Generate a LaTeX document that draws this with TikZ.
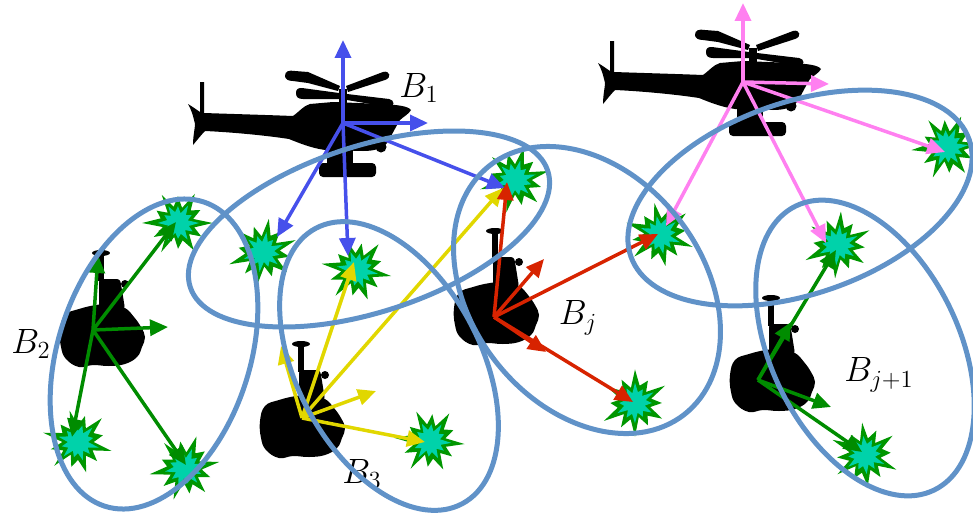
\RequirePackage{fix-cm}
\documentclass[tikz,border=0pt]{standalone}
\usetikzlibrary{arrows.meta}

\definecolor{ellblue}{RGB}{96,146,200}
\definecolor{arrblue}{RGB}{70,80,235}
\definecolor{arrpink}{RGB}{255,128,240}
\definecolor{arrgreen}{RGB}{0,140,0}
\definecolor{arryellow}{RGB}{225,215,0}
\definecolor{arrred}{RGB}{215,35,0}
\definecolor{burstgreen}{RGB}{0,150,0}
\definecolor{burstcyan}{RGB}{0,210,170}

\tikzset{
  ell/.style={draw=ellblue, line width=0.1cm},
  arr/.style={line width=0.07cm, -{Triangle[length=0.36cm,width=0.32cm]}},
  lbl/.style={font=\fontsize{20}{24}\selectfont, inner sep=1pt},
}

% helicopter silhouette, placed by its rotor hub
\newcommand{\heli}[1]{%
\begin{scope}[shift={(#1)}]
  \fill[black] (-143,-41) -- (-139,-41) -- (-139,-10)
    .. controls (-110,-9) and (-75,-8) .. (-50,-7)
    .. controls (-44,-11) and (-40,-17) .. (-33,-19)
    -- (-10,-21) -- (40,-19)
    .. controls (55,-18) and (65,-17) .. (68,-13)
    .. controls (66,-9) and (60,-6) .. (57,-3)
    .. controls (52,5) and (48,14) .. (44,20)
    .. controls (40,26) and (30,28) .. (20,28)
    -- (-18,27)
    .. controls (-32,25) and (-44,20) .. (-54,16)
    .. controls (-80,12) and (-115,9) .. (-138,8)
    .. controls (-141,11) and (-145,16) .. (-150,22)
    .. controls (-150,13) and (-148,5) .. (-148,1)
    .. controls (-150,-8) and (-152,-14) .. (-155,-19)
    .. controls (-150,-16) and (-146,-13) .. (-143,-11)
    -- cycle;
  % rotor mast and blades
  \fill[black] (-4,-34) rectangle (4,-18);
  \fill[black] (-58,-47) .. controls (-58,-52) and (-54,-53) .. (-48,-52)
    -- (-35,-51) -- (-3,-37) -- (-5,-32) -- (-35,-40) -- (-50,-42)
    .. controls (-55,-42) and (-58,-44) .. (-58,-47) -- cycle;
  \fill[black] (3,-37) -- (40,-51) .. controls (47,-53) and (49,-45) .. (42,-43)
    -- (5,-31) -- cycle;
  \fill[black] (-47,-30) .. controls (-47,-34) and (-45,-35) .. (-41,-35)
    -- (-4,-30) -- (-4,-24) -- (-40,-24)
    .. controls (-45,-24) and (-47,-26) .. (-47,-30) -- cycle;
  \fill[black] (4,-29) -- (46,-24) .. controls (52,-23) and (52,-16) .. (46,-16)
    -- (4,-23) -- cycle;
  % nose knob, strut and skid
  \fill[black] (38,24) circle [radius=0.11cm];
  \fill[black] (-16,24) rectangle (10,42);
  \fill[black, rounded corners=0.08cm] (-24,40) rectangle (33,54);
\end{scope}}

% ground robot silhouette, placed by the centre of its body
\newcommand{\rover}[1]{%
\begin{scope}[shift={(#1)}]
  \fill[black] plot[smooth cycle, tension=0.7] coordinates {
    (-41,-5) (-36,-20) (-22,-26) (-5,-30) (10,-31) (24,-27) (33,-18)
    (40,-8) (44,2) (41,12) (36,22) (24,29) (8,31) (-8,30) (-22,32)
    (-35,24) (-40,12)};
  \fill[black, rounded corners=0.06cm] (-2,-26) -- (-2,-56) -- (19,-56)
    -- (21,-45) -- (24,-26) -- cycle;
  \fill[black] (24,-51) circle [radius=0.08cm];
  \fill[black] (-3,-80) rectangle (3,-54);
  \fill[black] (0,-82) ellipse [x radius=0.18cm, y radius=0.06cm];
\end{scope}}

% target marker: green burst with a cyan core
\newcommand{\burstat}[2]{%
\begin{scope}[shift={(#1)}, rotate=#2, scale=1.12]
  \fill[burstgreen] (0:31) -- (15:15) -- (30:24) -- (45:14) -- (60:28)
    -- (75:16) -- (90:23) -- (105:13) -- (120:30) -- (135:15) -- (150:25)
    -- (165:14) -- (180:32) -- (195:16) -- (210:22) -- (225:13) -- (240:29)
    -- (255:15) -- (270:24) -- (285:14) -- (300:30) -- (315:16) -- (330:23)
    -- (345:14) -- cycle;
  \fill[burstcyan] (0:19) -- (15:10) -- (30:15) -- (45:9) -- (60:17)
    -- (75:10) -- (90:14) -- (105:9) -- (120:18) -- (135:10) -- (150:15)
    -- (165:9) -- (180:18) -- (195:10) -- (210:14) -- (225:9) -- (240:17)
    -- (255:10) -- (270:15) -- (285:9) -- (300:18) -- (315:10) -- (330:14)
    -- (345:9) -- cycle;
\end{scope}}

\begin{document}
\begin{tikzpicture}[x=0.02cm, y=-0.02cm]
\useasboundingbox (0,0) rectangle (973,514);

% agents: two helicopters and four ground robots
\heli{343,123}
\heli{753,82}
\rover{101,335}
\rover{301,426}
\rover{495,313}
\rover{771,380}

% arrow origins
\coordinate (h1) at (343,123);
\coordinate (h2) at (743,82);
\coordinate (g2) at (93,330);
\coordinate (y3) at (302,418);
\coordinate (rj) at (494,317);
\coordinate (gj) at (758,380);

% targets
\coordinate (b1) at (178,223);
\coordinate (b2) at (263,252);
\coordinate (b3) at (357,270);
\coordinate (b4) at (515,180);
\coordinate (b5) at (660,235);
\coordinate (b6) at (947,147);
\coordinate (b7) at (838,245);
\coordinate (b8) at (78,442);
\coordinate (b9) at (185,468);
\coordinate (b10) at (430,441);
\coordinate (b11) at (635,403);
\coordinate (b12) at (865,455);

\burstat{b1}{0}
\burstat{b2}{20}
\burstat{b3}{-10}
\burstat{b4}{15}
\burstat{b5}{-20}
\burstat{b6}{5}
\burstat{b7}{25}
\burstat{b8}{-15}
\burstat{b9}{10}
\burstat{b10}{-5}
\burstat{b11}{30}
\burstat{b12}{-25}

% free arrow ends
\coordinate (h1up) at (343,40);
\coordinate (h1rt) at (428,123);
\coordinate (h1dl) at (277,237);
\coordinate (h1dn) at (348,256);
\coordinate (h1b4) at (505,188);
\coordinate (h2up) at (743,3);
\coordinate (h2rt) at (829,84);
\coordinate (h2b5) at (666,226);
\coordinate (h2b7) at (826,243);
\coordinate (h2b6) at (945,152);
\coordinate (g2up) at (98,255);
\coordinate (g2rt) at (168,327);
\coordinate (g2b1) at (176,222);
\coordinate (g2b8) at (72,437);
\coordinate (g2b9) at (186,465);
\coordinate (y3ul) at (281,346);
\coordinate (y3b3) at (354,262);
\coordinate (y3b4) at (503,188);
\coordinate (y3rt) at (376,391);
\coordinate (y3b10) at (425,442);
\coordinate (rjup) at (507,182);
\coordinate (rjur) at (544,259);
\coordinate (rjb5) at (658,234);
\coordinate (rjdr) at (546,352);
\coordinate (rjb11) at (633,402);
\coordinate (gjur) at (791,322);
\coordinate (gjb7) at (836,250);
\coordinate (gjdr) at (831,407);
\coordinate (gjb12) at (862,452);

% helicopter 1
\draw[arr, arrblue] (h1) -- (h1up);
\draw[arr, arrblue] (h1) -- (h1rt);
\draw[arr, arrblue] (h1) -- (h1dl);
\draw[arr, arrblue] (h1) -- (h1dn);
\draw[arr, arrblue] (h1) -- (h1b4);
% helicopter 2
\draw[arr, arrpink] (h2) -- (h2up);
\draw[arr, arrpink] (h2) -- (h2rt);
\draw[arr, arrpink] (h2) -- (h2b5);
\draw[arr, arrpink] (h2) -- (h2b7);
\draw[arr, arrpink] (h2) -- (h2b6);
% robot 2
\draw[arr, arrgreen] (g2) -- (g2up);
\draw[arr, arrgreen] (g2) -- (g2rt);
\draw[arr, arrgreen] (g2) -- (g2b1);
\draw[arr, arrgreen] (g2) -- (g2b8);
\draw[arr, arrgreen] (g2) -- (g2b9);
% robot 3
\draw[arr, arryellow] (y3) -- (y3ul);
\draw[arr, arryellow] (y3) -- (y3b3);
\draw[arr, arryellow] (y3) -- (y3b4);
\draw[arr, arryellow] (y3) -- (y3rt);
\draw[arr, arryellow] (y3) -- (y3b10);
% robot j
\draw[arr, arrred] (rj) -- (rjup);
\draw[arr, arrred] (rj) -- (rjur);
\draw[arr, arrred] (rj) -- (rjb5);
\draw[arr, arrred] (rj) -- (rjdr);
\draw[arr, arrred] (rj) -- (rjb11);
% robot j+1
\draw[arr, arrgreen] (gj) -- (gjur);
\draw[arr, arrgreen] (gj) -- (gjb7);
\draw[arr, arrgreen] (gj) -- (gjdr);
\draw[arr, arrgreen] (gj) -- (gjb12);

% labels
\node[lbl] (lb1) at (419,88) {$B_1$};
\node[lbl] (lb2) at (31,344) {$B_2$};
\node[lbl] (lb3) at (362,474) {$B_3$};
\node[lbl] (lbj) at (578,318) {$B_j$};
\node[lbl] (lbj1) at (879,375) {$B_{j+1}$};

% coverage regions
\draw[ell, rotate around={72:(154,354)}] (154,354) ellipse [x radius=3.20cm, y radius=1.92cm];
\draw[ell, rotate around={18:(369,229)}] (369,229) ellipse [x radius=3.76cm, y radius=1.66cm];
\draw[ell, rotate around={-62:(389,366)}] (389,366) ellipse [x radius=3.12cm, y radius=1.84cm];
\draw[ell, rotate around={-52:(587,290)}] (587,290) ellipse [x radius=3.16cm, y radius=2.32cm];
\draw[ell, rotate around={19:(800,198)}] (800,198) ellipse [x radius=3.58cm, y radius=1.92cm];
\draw[ell, rotate around={-64:(865,348)}] (865,348) ellipse [x radius=3.16cm, y radius=1.88cm];
\end{tikzpicture}
\end{document}
